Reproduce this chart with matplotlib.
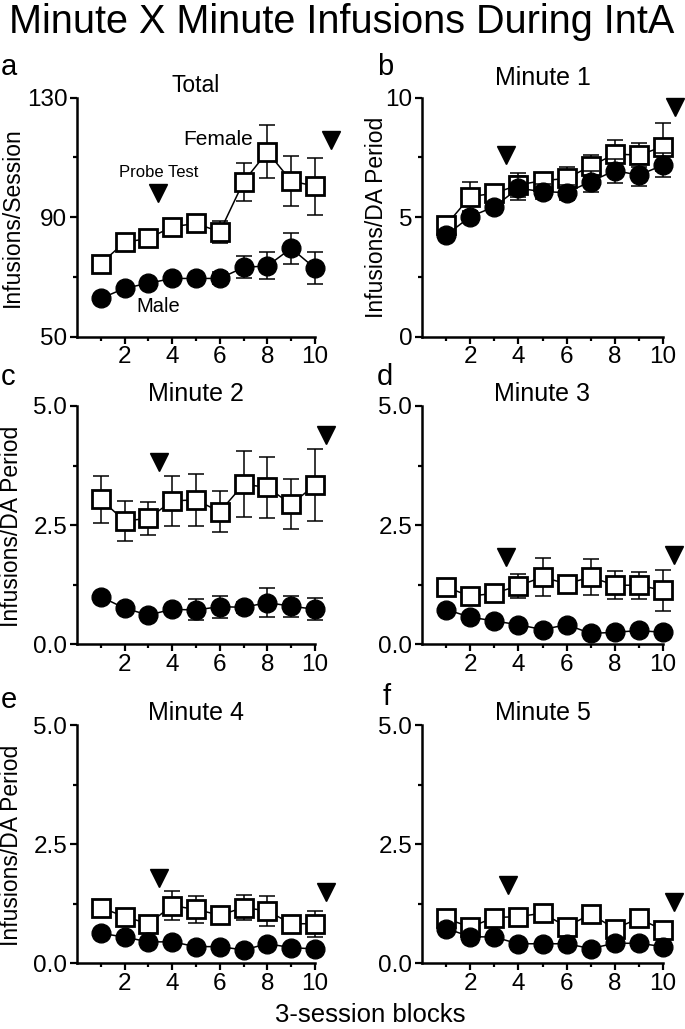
import matplotlib
matplotlib.use('Agg')
import matplotlib.pyplot as plt
from matplotlib.ticker import FixedLocator

plt.rcParams['font.family'] = ['Liberation Sans', 'DejaVu Sans']

blocks = [1, 2, 3, 4, 5, 6, 7, 8, 9, 10]
x_major_ticks = [2, 4, 6, 8, 10]
x_minor_ticks = [1, 3, 5, 7, 9]

# Panel a: Total
female_total = [74.5, 81.6, 82.9, 86.8, 87.9, 85.1, 101.9, 111.9, 102.1, 100.4]
female_total_sem = [1.5, 2.0, 2.0, 2.0, 2.5, 3.7, 6.4, 8.8, 8.5, 9.5]
male_total = [62.8, 66.2, 67.9, 69.5, 69.5, 69.5, 73.2, 73.7, 79.6, 72.9]
male_total_sem = [1.2, 1.5, 1.5, 1.5, 1.5, 2.0, 3.7, 4.5, 5.1, 5.3]

# Panel b: Minute 1
female_m1 = [4.67, 5.86, 6.00, 6.35, 6.53, 6.62, 7.14, 7.64, 7.60, 7.95]
female_m1_sem = [0.2, 0.6, 0.3, 0.5, 0.3, 0.46, 0.45, 0.6, 0.5, 1.0]
male_m1 = [4.25, 5.02, 5.44, 6.21, 6.07, 6.03, 6.49, 6.95, 6.76, 7.18]
male_m1_sem = [0.2, 0.2, 0.2, 0.5, 0.3, 0.3, 0.45, 0.5, 0.45, 0.5]

# Panel c: Minute 2
female_m2 = [3.04, 2.59, 2.64, 3.01, 3.03, 2.78, 3.36, 3.29, 2.94, 3.34]
female_m2_sem = [0.50, 0.42, 0.35, 0.52, 0.55, 0.43, 0.69, 0.63, 0.53, 0.75]
male_m2 = [1.00, 0.755, 0.615, 0.734, 0.72, 0.79, 0.776, 0.874, 0.80, 0.734]
male_m2_sem = [0.08, 0.08, 0.08, 0.10, 0.22, 0.23, 0.12, 0.31, 0.22, 0.23]

# Panel d: Minute 3
female_m3 = [1.20, 1.01, 1.07, 1.23, 1.41, 1.27, 1.41, 1.24, 1.24, 1.13]
female_m3_sem = [0.10, 0.08, 0.08, 0.25, 0.40, 0.17, 0.37, 0.30, 0.28, 0.43]
male_m3 = [0.73, 0.57, 0.49, 0.41, 0.31, 0.41, 0.23, 0.25, 0.29, 0.25]
male_m3_sem = [0.05, 0.05, 0.05, 0.05, 0.05, 0.05, 0.05, 0.05, 0.05, 0.05]

# Panel e: Minute 4
female_m4 = [1.17, 0.98, 0.83, 1.21, 1.13, 1.01, 1.17, 1.10, 0.83, 0.83]
female_m4_sem = [0.08, 0.08, 0.08, 0.30, 0.28, 0.05, 0.27, 0.32, 0.08, 0.27]
male_m4 = [0.63, 0.55, 0.45, 0.45, 0.35, 0.35, 0.28, 0.41, 0.33, 0.30]
male_m4_sem = [0.05, 0.05, 0.05, 0.05, 0.05, 0.05, 0.05, 0.05, 0.05, 0.05]

# Panel f: Minute 5
female_m5 = [0.94, 0.76, 0.96, 0.98, 1.05, 0.77, 1.03, 0.73, 0.94, 0.70]
female_m5_sem = [0.05, 0.05, 0.05, 0.05, 0.05, 0.05, 0.05, 0.05, 0.05, 0.12]
male_m5 = [0.73, 0.56, 0.55, 0.41, 0.41, 0.41, 0.31, 0.42, 0.42, 0.35]
male_m5_sem = [0.05, 0.05, 0.05, 0.05, 0.05, 0.05, 0.05, 0.05, 0.05, 0.05]

# Probe test markers (block position, height)
probe_a = [(3.42, 98.0), (10.67, 115.8)]
probe_b = [(3.49, 7.6), (10.5, 9.6)]
probe_c = [(3.45, 3.83), (10.46, 4.39)]
probe_d = [(3.49, 1.84), (10.46, 1.87)]
probe_e = [(3.45, 1.78), (10.46, 1.50)]
probe_f = [(3.55, 1.64), (10.46, 1.29)]

titles = ['Total', 'Minute 1', 'Minute 2', 'Minute 3', 'Minute 4', 'Minute 5']
letters = ['a', 'b', 'c', 'd', 'e', 'f']

W, H = 685, 1029
fig = plt.figure(figsize=(W / 100, H / 100), dpi=100)

def px_rect(l, t, r, b):
    return [l / W, 1 - b / H, (r - l) / W, (b - t) / H]

rects = [px_rect(77, 97.7, 315, 336.7), px_rect(422, 97.7, 663, 336.7),
         px_rect(77, 406, 315, 644.3), px_rect(422, 406, 663, 644.3),
         px_rect(77, 725, 315, 963.3), px_rect(422, 725, 663, 963.3)]

panels = [
    (female_total, female_total_sem, male_total, male_total_sem, probe_a, (50, 130), [50, 90, 130], ['50', '90', '130'], [70, 110]),
    (female_m1, female_m1_sem, male_m1, male_m1_sem, probe_b, (0, 10), [0, 5, 10], ['0', '5', '10'], [2.5, 7.5]),
    (female_m2, female_m2_sem, male_m2, male_m2_sem, probe_c, (0, 5), [0, 2.5, 5], ['0.0', '2.5', '5.0'], [1.25, 3.75]),
    (female_m3, female_m3_sem, male_m3, male_m3_sem, probe_d, (0, 5), [0, 2.5, 5], ['0.0', '2.5', '5.0'], [1.25, 3.75]),
    (female_m4, female_m4_sem, male_m4, male_m4_sem, probe_e, (0, 5), [0, 2.5, 5], ['0.0', '2.5', '5.0'], [1.25, 3.75]),
    (female_m5, female_m5_sem, male_m5, male_m5_sem, probe_f, (0, 5), [0, 2.5, 5], ['0.0', '2.5', '5.0'], [1.25, 3.75]),
]
title_pads = [4.3, 9, 3.6, 3.8, 2.4, 2.4]
title_sizes = [16.5, 18, 18, 18, 18, 18]

FS = 17.5
for i, (fv, fs, mv, ms, probe, ylim, yt, ytl, ymin) in enumerate(panels):
    ax = fig.add_axes(rects[i])
    ax.errorbar(blocks, fv, yerr=fs, fmt='none', ecolor='black', elinewidth=1.1,
                capsize=6, capthick=1.1, zorder=2, clip_on=False)
    ax.plot(blocks, fv, '-', color='black', lw=1.1, marker='s', ms=13.5,
            mfc='white', mec='black', mew=2.0, zorder=3, clip_on=False)
    ax.errorbar(blocks, mv, yerr=ms, fmt='none', ecolor='black', elinewidth=1.1,
                capsize=6, capthick=1.1, zorder=4, clip_on=False)
    ax.plot(blocks, mv, '-', color='black', lw=1.1, marker='o', ms=13.5,
            mfc='black', mec='black', zorder=5, clip_on=False)
    for (px, py) in probe:
        ax.plot([px], [py], marker='v', ms=13.5, color='black', ls='none',
                clip_on=False, zorder=6)
    ax.set_xlim(0, 10)
    ax.set_ylim(*ylim)
    ax.set_yticks(yt)
    ax.set_yticklabels(ytl)
    ax.yaxis.set_minor_locator(FixedLocator(ymin))
    ax.set_xticks(x_major_ticks)
    ax.xaxis.set_minor_locator(FixedLocator(x_minor_ticks))
    for s in ['top', 'right']:
        ax.spines[s].set_visible(False)
    for s in ['left', 'bottom']:
        ax.spines[s].set_linewidth(1.8)
    ax.tick_params(which='major', direction='out', length=5, width=1.6,
                   labelsize=FS, pad=2)
    ax.tick_params(which='minor', direction='out', length=3, width=1.6)
    ax.set_title(titles[i], fontsize=title_sizes[i], pad=title_pads[i])
    if i == 0:
        ax.text(3.45, 105, 'Probe Test', fontsize=12, ha='center', va='center')
        ax.text(5.95, 116, 'Female', fontsize=15, ha='center', va='center')
        ax.text(3.4, 60, 'Male', fontsize=14.5, ha='center', va='center')

letter_pos = [(1, 75), (377, 75), (1, 385), (377, 385), (1, 708), (383, 705)]
for L, (lx, ly) in zip(letters, letter_pos):
    fig.text(lx / W, 1 - ly / H, L, fontsize=21, ha='left', va='baseline')

ylabels = [('Infusions/Session', 12.5, 217), ('Infusions/DA Period', 376.5, 217),
           ('Infusions/DA Period', 11.5, 526), ('Infusions/DA Period', 12, 845)]
for txt, lx, ly in ylabels:
    fig.text(lx / W, 1 - ly / H, txt, fontsize=16.5, rotation=90,
             ha='center', va='center')

fig.text(370 / W, 1 - 1022 / H, '3-session blocks', fontsize=18.5, ha='center', va='baseline')
fig.text(342 / W, 1 - 22 / H, 'Minute X Minute Infusions During IntA', fontsize=28.5,
         ha='center', va='center')

fig.savefig('out.png', dpi=100)
